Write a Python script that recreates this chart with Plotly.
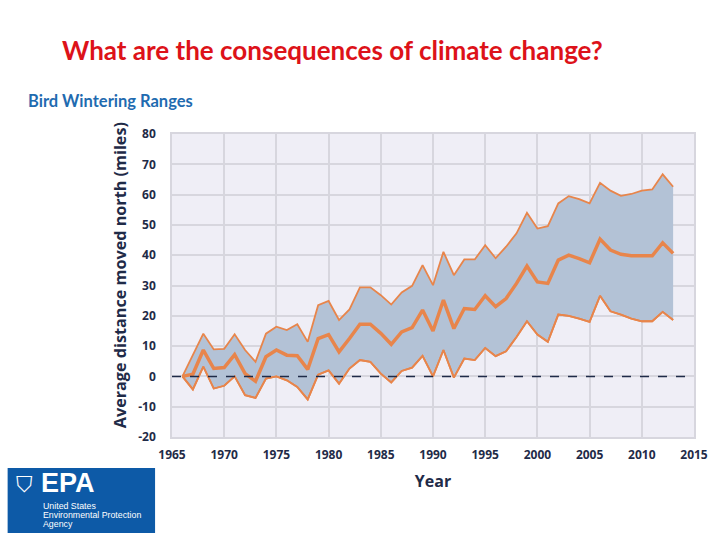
import plotly.graph_objects as go

years = list(range(1966, 2014))
mean_vals = [0, 0.7, 8.7, 2.6, 2.9, 7.2, 0.9, -1.6, 6.5, 8.7, 7.0, 6.8, 2.3, 12.5, 13.8,
             8.1, 12.5, 17.2, 17.2, 14.2, 10.6, 14.7, 16.1, 21.9, 15.0,
             25.2, 15.8, 22.4, 22.1, 26.6, 23.0, 25.7, 30.7, 36.4, 31.2, 30.7, 38.4, 40.0,
             38.9, 37.5, 45.3, 41.7, 40.3, 39.8, 39.8, 39.8, 44.1, 40.6]
upper_vals = [0, 7.0, 14.1, 8.9, 9.1, 13.9, 8.7, 4.8, 14.1, 16.4, 15.3, 17.2, 11.4, 23.5, 24.9,
              18.6, 22.1, 29.4, 29.4, 26.8, 23.7, 27.7, 29.9, 36.7, 30.1,
              41.1, 33.4, 38.6, 38.6, 43.3, 39.0, 42.8, 47.2, 54.0, 48.8, 49.6, 57.1, 59.5,
              58.5, 57.1, 63.9, 61.3, 59.6, 60.2, 61.3, 61.7, 66.7, 62.6]
lower_vals = [0, -4.3, 3.2, -4.0, -3.1, 0, -6.2, -7.1, -0.7, 0, -1.3, -3.5, -7.6, 0.6, 2.0,
              -2.4, 2.6, 5.4, 4.8, 0.9, -2.0, 1.8, 2.9, 6.8, 0,
              8.7, -0.4, 5.9, 5.4, 9.4, 6.7, 8.3, 13.0, 18.2, 13.8, 11.4, 20.4, 20.0,
              19.1, 18.0, 26.6, 21.5, 20.4, 19.1, 18.2, 18.2, 21.3, 18.6]

x_ticks = list(range(1965, 2016, 5))
y_ticks = list(range(-20, 81, 10))

ORANGE = "#e8854b"
FILL = "#b3c2d6"
NAVY = "#1f2b48"

W, H = 720, 540
L, R, T, B = 172, 24, 134, 103
PW, PH = W - L - R, H - T - B


def px(x):
    return (x - L) / PW


def py(y):
    return (H - B - y) / PH


fig = go.Figure()
fig.add_trace(go.Scatter(x=years, y=lower_vals, mode="lines",
                         line=dict(color=ORANGE, width=1.8), hoverinfo="skip", showlegend=False))
fig.add_trace(go.Scatter(x=years, y=upper_vals, mode="lines", fill="tonexty", fillcolor=FILL,
                         line=dict(color=ORANGE, width=1.8), hoverinfo="skip", showlegend=False))
fig.add_trace(go.Scatter(x=years, y=lower_vals, mode="lines",
                         line=dict(color=ORANGE, width=1.8), hoverinfo="skip", showlegend=False))
fig.add_trace(go.Scatter(x=years, y=mean_vals, mode="lines",
                         line=dict(color=ORANGE, width=3.5), showlegend=False))

# zero reference line
fig.add_shape(type="line", xref="paper", yref="y", x0=0, x1=1, y0=0, y1=0,
              line=dict(color=NAVY, width=1.5, dash="dash"), layer="above")

tickfont = dict(family="Open Sans", size=12, color=NAVY, weight="bold")

fig.update_xaxes(range=[1965, 2015], tickvals=x_ticks, ticktext=[str(v) for v in x_ticks],
                 showgrid=True, gridcolor="#d7d6de", gridwidth=1.5, zeroline=False,
                 showline=True, linecolor="#d7d6de", linewidth=1.5, mirror=True,
                 ticks="outside", ticklen=6, tickcolor="rgba(0,0,0,0)",
                 tickfont=tickfont,
                 title=dict(text="Year", font=dict(family="Open Sans", size=16, color=NAVY, weight="bold"),
                            standoff=14))
fig.update_yaxes(range=[-20, 80], tickvals=y_ticks, ticktext=[str(v) for v in y_ticks],
                 showgrid=True, gridcolor="#d7d6de", gridwidth=1.5, zeroline=False,
                 showline=True, linecolor="#d7d6de", linewidth=1.5, mirror=True,
                 ticks="outside", ticklen=12, tickcolor="rgba(0,0,0,0)",
                 tickfont=tickfont)

annotations = [
    dict(text="Average distance moved north (miles)", x=px(120), y=py(275),
         xref="paper", yref="paper", xanchor="center", yanchor="middle", showarrow=False,
         textangle=-90,
         font=dict(family="Open Sans", size=16.2, color=NAVY, weight="bold")),
    dict(text="What are the consequences of climate change?", x=px(333), y=py(50),
         xref="paper", yref="paper", xanchor="center", yanchor="middle", showarrow=False,
         font=dict(family="Lato", size=26, color="#dd1219", weight="bold")),
    dict(text="Bird Wintering Ranges", x=px(25), y=py(101),
         xref="paper", yref="paper", xanchor="left", yanchor="middle", showarrow=False,
         font=dict(family="Lato", size=16.5, color="#1f6bb0", weight="bold")),
    dict(text="EPA", x=px(38), y=py(483),
         xref="paper", yref="paper", xanchor="left", yanchor="middle", showarrow=False,
         font=dict(family="Liberation Sans", size=27, color="white", weight="bold")),
    dict(text="⛉", x=px(24), y=py(484),
         xref="paper", yref="paper", xanchor="center", yanchor="middle", showarrow=False,
         font=dict(family="DejaVu Sans", size=22, color="white")),
]
logo_lines = ["United States", "Environmental Protection", "Agency"]
logo_ys = [506, 515, 524]
for txt, yy in zip(logo_lines, logo_ys):
    annotations.append(dict(text=txt, x=px(40), y=py(yy), xref="paper", yref="paper",
                            xanchor="left", yanchor="middle", showarrow=False,
                            font=dict(family="Liberation Sans", size=8.8, color="white")))

fig.add_shape(type="rect", xref="paper", yref="paper", x0=px(7), x1=px(155), y0=py(533), y1=py(468),
              fillcolor="#0d5aa7", line=dict(width=0), layer="above")

fig.update_layout(
    width=W, height=H,
    margin=dict(l=L, r=R, t=T, b=B),
    paper_bgcolor="white", plot_bgcolor="#efeef6",
    annotations=annotations,
    showlegend=False,
)

fig.write_html("out.html")
